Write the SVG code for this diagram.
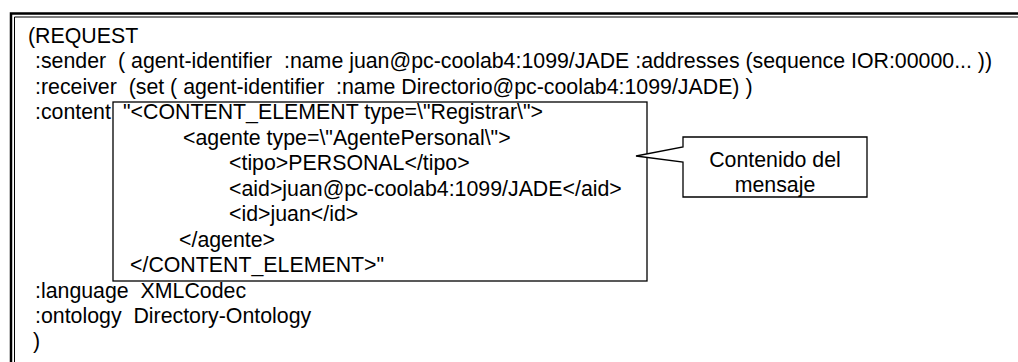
<svg xmlns="http://www.w3.org/2000/svg" width="1018" height="362" viewBox="0 0 1018 362">
  <style>
    text { font-family: "Liberation Sans", Arial, sans-serif; font-size: 21.33px; fill: #000; white-space: pre; }
    .frame-thick { fill: none; stroke: #000; stroke-width: 2.5; }
    .frame-thin { fill: none; stroke: #000; stroke-width: 1; }
    .box { fill: #fff; stroke: #000; stroke-width: 1.3; }
    .mid { text-anchor: middle; }
  </style>
  <rect x="0" y="0" width="1018" height="362" fill="#fff"/>
  <g id="frame">
    <polyline class="frame-thick" points="11,362 11,13.5 1018,13.5"/>
    <polyline class="frame-thin" points="14.5,362 14.5,17 1018,17"/>
  </g>
  <g id="message">
    <text x="28" y="42.5">(REQUEST</text>
    <text x="35" y="68">:sender  ( agent-identifier  :name juan@pc-coolab4:1099/JADE :addresses (sequence IOR:00000... ))</text>
    <text x="35" y="93.5">:receiver  (set ( agent-identifier  :name Directorio@pc-coolab4:1099/JADE) )</text>
    <text x="35" y="119">:content</text>
    <text x="35" y="297.5">:language  XMLCodec</text>
    <text x="35" y="323">:ontology  Directory-Ontology</text>
    <text x="33" y="348">)</text>
  </g>
  <g id="content-box">
    <rect class="box" x="113" y="102" width="534" height="179"/>
    <text x="123" y="119">"&lt;CONTENT_ELEMENT type=\"Registrar\"&gt;</text>
    <text x="183" y="144.5">&lt;agente type=\"AgentePersonal\"&gt;</text>
    <text x="229" y="170">&lt;tipo&gt;PERSONAL&lt;/tipo&gt;</text>
    <text x="229" y="195.5">&lt;aid&gt;juan@pc-coolab4:1099/JADE&lt;/aid&gt;</text>
    <text x="229" y="221">&lt;id&gt;juan&lt;/id&gt;</text>
    <text x="179" y="246.5">&lt;/agente&gt;</text>
    <text x="130" y="272">&lt;/CONTENT_ELEMENT&gt;"</text>
  </g>
  <g id="callout">
    <path class="box" d="M683,137 L867,137 L867,197 L683,197 L683,162 L636,156 L683,147 Z"/>
    <text class="mid" x="775" y="167">Contenido del</text>
    <text class="mid" x="775" y="192">mensaje</text>
  </g>
</svg>
